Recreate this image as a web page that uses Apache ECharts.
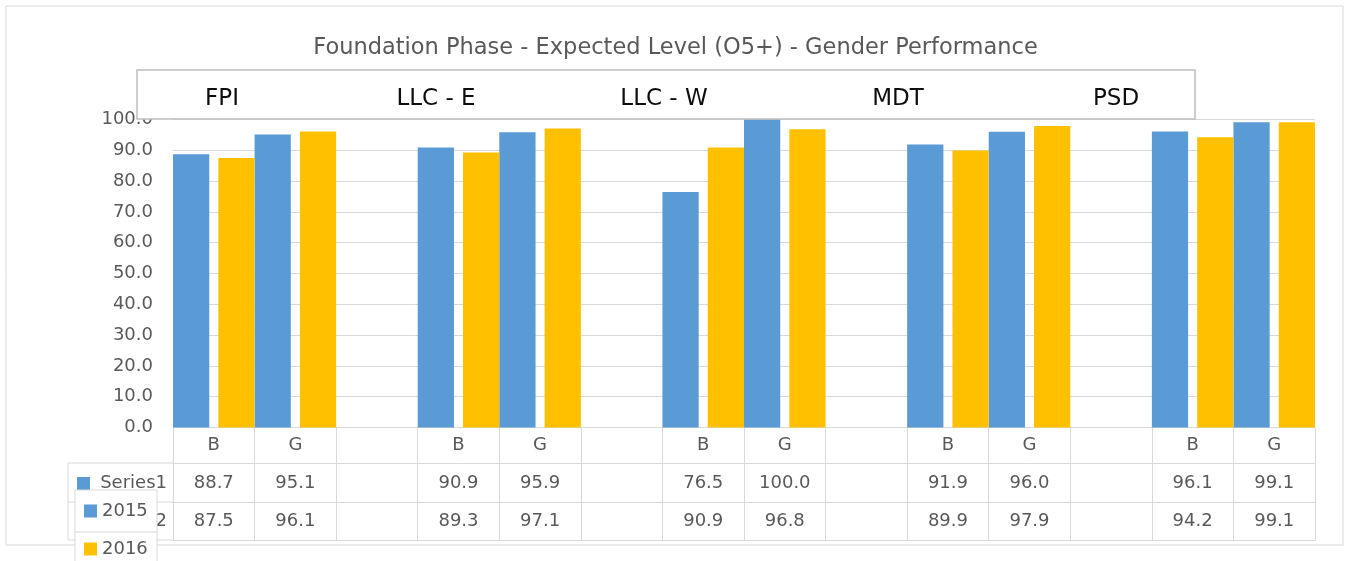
<!DOCTYPE html>
<html>
<head>
<meta charset="utf-8">
<script src="https://cdn.jsdelivr.net/npm/echarts@6/dist/echarts.min.js"></script>
<style>
html,body{margin:0;padding:0;background:#fff;}
#chart{width:1351px;height:561px;}
</style>
</head>
<body>
<div id="chart"></div>
<script>
const titleText = 'Foundation Phase - Expected Level (O5+) - Gender Performance';
const categories = ['B','G','','B','G','','B','G','','B','G','','B','G'];
const s2015 = [88.7,95.1,null,90.9,95.9,null,76.5,100.0,null,91.9,96.0,null,96.1,99.1];
const s2016 = [87.5,96.1,null,89.3,97.1,null,90.9,96.8,null,89.9,97.9,null,94.2,99.1];
const groupNames = ['FPI','LLC - E','LLC - W','MDT','PSD'];
const groupLabelX = [222,436,664,898,1116];
const seriesNames = ['2015','2016'];
const tableRowNames = ['Series1','Series2'];
const yMin = 0, yMax = 100, yStep = 10;

const BLUE = '#5B9BD5', ORANGE = '#FFC000', GRID = '#D9D9D9', TXT = '#595959';
const FONT = 'DejaVu Sans';
const fmt = v => (v == null ? '' : v.toFixed(1));

const chart = echarts.init(document.getElementById('chart'));

function rowAxis(vals, offset, tickLen, rowH) {
  return {
    type: 'category', gridIndex: 0, position: 'bottom', offset: offset,
    data: categories.map((c, i) => 'c' + i),
    axisLine: {show: true, lineStyle: {color: GRID, width: 1}},
    axisTick: {show: tickLen > 0, interval: 0, length: tickLen, lineStyle: {color: GRID, width: 1}},
    axisLabel: {
      show: !!vals, interval: 0, margin: 0, color: TXT, fontSize: 18, fontFamily: FONT,
      lineHeight: rowH, verticalAlign: 'top',
      formatter: (v, idx) => vals ? fmt(vals[idx]) : ''
    },
    splitLine: {show: false}
  };
}

const graphics = [
  {type: 'rect', z: 0, shape: {x: 6, y: 6, width: 1337, height: 539}, style: {fill: 'none', stroke: GRID, lineWidth: 1}},
  // left header of the data table
  {type: 'line', z: 1, shape: {x1: 68, y1: 463, x2: 173, y2: 463}, style: {stroke: GRID, lineWidth: 1}},
  {type: 'line', z: 1, shape: {x1: 68, y1: 502, x2: 173, y2: 502}, style: {stroke: GRID, lineWidth: 1}},
  {type: 'line', z: 1, shape: {x1: 68, y1: 540, x2: 173, y2: 540}, style: {stroke: GRID, lineWidth: 1}},
  {type: 'line', z: 1, shape: {x1: 68, y1: 463, x2: 68, y2: 540}, style: {stroke: GRID, lineWidth: 1}},
  {type: 'rect', z: 2, shape: {x: 77, y: 477, width: 13, height: 13}, style: {fill: BLUE}},
  {type: 'text', z: 2, x: 167, y: 483, style: {text: tableRowNames[0], fill: TXT, font: '18px "DejaVu Sans"', textAlign: 'right', textVerticalAlign: 'middle'}},
  {type: 'rect', z: 2, shape: {x: 77, y: 515, width: 13, height: 13}, style: {fill: ORANGE}},
  {type: 'text', z: 2, x: 167, y: 521, style: {text: tableRowNames[1], fill: TXT, font: '18px "DejaVu Sans"', textAlign: 'right', textVerticalAlign: 'middle'}},
  // overlaid legend box
  {type: 'rect', z: 50, shape: {x: 75, y: 490, width: 82, height: 80}, style: {fill: '#fff', stroke: GRID, lineWidth: 1}},
  {type: 'line', z: 51, shape: {x1: 75, y1: 532, x2: 157, y2: 532}, style: {stroke: GRID, lineWidth: 1}},
  // top box with group names
  {type: 'rect', z: 50, shape: {x: 137, y: 70, width: 1058, height: 49}, style: {fill: '#fff', stroke: '#BFBFBF', lineWidth: 1.5}}
];
groupNames.forEach((g, i) => {
  graphics.push({type: 'text', z: 51, x: groupLabelX[i], y: 99,
    style: {text: g, fill: '#0D0D0D', font: '23px "DejaVu Sans"', textAlign: 'center', textVerticalAlign: 'middle'}});
});

chart.setOption({
  animation: false,
  backgroundColor: '#fff',
  title: {
    text: titleText, left: 'center', top: 32,
    textStyle: {color: TXT, fontSize: 22.5, fontWeight: 'normal', fontFamily: FONT}
  },
  legend: {
    orient: 'vertical', left: 84, top: 502, z: 60, padding: 0, height: 59,
    itemWidth: 13, itemHeight: 13, itemGap: 20, icon: 'rect',
    textStyle: {color: TXT, fontSize: 18, fontFamily: FONT, lineHeight: 18},
    data: seriesNames
  },
  grid: {left: 173, right: 36, top: 119.5, bottom: 133.5, containLabel: false},
  xAxis: [
    {
      type: 'category', gridIndex: 0, position: 'bottom', data: categories,
      axisLine: {show: true, lineStyle: {color: GRID, width: 1}},
      axisTick: {show: true, interval: 0, length: 36, lineStyle: {color: GRID, width: 1}},
      axisLabel: {interval: 0, margin: 0, color: TXT, fontSize: 18, fontFamily: FONT, lineHeight: 36, verticalAlign: 'top'}
    },
    rowAxis(s2015, 36, 39, 39),
    rowAxis(s2016, 75, 38, 38),
    rowAxis(null, 113, 0, 10)
  ],
  yAxis: {
    type: 'value', min: yMin, max: yMax, interval: yStep,
    axisLine: {show: false}, axisTick: {show: false},
    axisLabel: {color: TXT, fontSize: 18, fontFamily: FONT, margin: 20, formatter: v => v.toFixed(1)},
    splitLine: {lineStyle: {color: GRID, width: 1}}
  },
  series: [
    {name: seriesNames[0], type: 'bar', xAxisIndex: 0, data: s2015, itemStyle: {color: BLUE}, barGap: '25%', barCategoryGap: '0%'},
    {name: seriesNames[1], type: 'bar', xAxisIndex: 0, data: s2016, itemStyle: {color: ORANGE}, barGap: '25%', barCategoryGap: '0%'}
  ],
  graphic: {elements: graphics}
});
</script>
</body>
</html>
